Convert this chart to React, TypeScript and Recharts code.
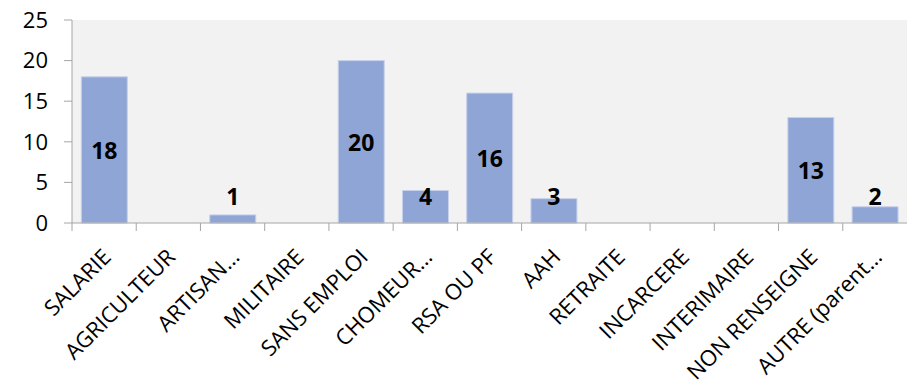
import React from "react";
import { BarChart, Bar, XAxis, YAxis, CartesianGrid, LabelList } from "recharts";

const categories = [
  "SALARIE",
  "AGRICULTEUR",
  "ARTISAN…",
  "MILITAIRE",
  "SANS EMPLOI",
  "CHOMEUR…",
  "RSA OU PF",
  "AAH",
  "RETRAITE",
  "INCARCERE",
  "INTERIMAIRE",
  "NON RENSEIGNE",
  "AUTRE (parent…",
];
const counts = [18, 0, 1, 0, 20, 4, 16, 3, 0, 0, 0, 13, 2];
const yTicks = [0, 5, 10, 15, 20, 25];

const WIDTH = 907;
const HEIGHT = 387;
const Y_AXIS_W = 72;
const PLOT_W = WIDTH - Y_AXIS_W;
const FONT = "'Open Sans', 'Liberation Sans', sans-serif";
const AXIS_GREY = "#A6A6A6";

const data = categories.map((name, i) => ({ name, count: counts[i] }));

function CategoryTick(props: any) {
  const { x, y, payload } = props;
  const bw = PLOT_W / categories.length;
  const left = x - bw / 2;
  const tx = x + 2;
  const ty = y + 29;
  return (
    <g>
      <line x1={left} x2={left} y1={y} y2={y + 8} stroke={AXIS_GREY} />
      <text
        x={tx}
        y={ty}
        textAnchor="end"
        dominantBaseline="central"
        transform={`rotate(-45, ${tx}, ${ty})`}
        fill="#000"
        fontSize={22}
        fontFamily={FONT}
      >
        {payload.value}
      </text>
    </g>
  );
}

function ValueLabel(props: any) {
  const { x, y, width, height, value } = props;
  if (!value) return null;
  const cx = x + width / 2;
  const cy = Math.min(y + height / 2, y + height - 27);
  return (
    <text
      x={cx}
      y={cy}
      textAnchor="middle"
      dominantBaseline="central"
      fontWeight="bold"
      fontSize={23}
      fontFamily={FONT}
      fill="#000"
    >
      {value}
    </text>
  );
}

export default function App() {
  return (
    <div style={{ position: "absolute", left: 0, top: 0, width: WIDTH, height: HEIGHT, background: "#fff" }}>
      <BarChart
        width={WIDTH}
        height={HEIGHT}
        data={data}
        margin={{ top: 20, right: 0, left: 0, bottom: 0 }}
        barCategoryGap="14.5%"
      >
        <CartesianGrid horizontal={false} vertical={false} fill="#F2F2F2" />
        <XAxis
          dataKey="name"
          interval={0}
          height={164}
          tickSize={0}
          tickMargin={0}
          tickLine={false}
          axisLine={{ stroke: AXIS_GREY }}
          tick={<CategoryTick />}
        />
        <YAxis
          width={Y_AXIS_W}
          domain={[0, 25]}
          ticks={yTicks}
          tickSize={8}
          tickMargin={16}
          tickLine={{ stroke: AXIS_GREY }}
          axisLine={{ stroke: AXIS_GREY }}
          tick={{ fill: "#000", fontSize: 22, fontFamily: FONT }}
        />
        <Bar dataKey="count" fill="#8FA5D5" stroke="#C8D1EA" strokeWidth={1} isAnimationActive={false}>
          <LabelList dataKey="count" content={<ValueLabel />} />
        </Bar>
      </BarChart>
    </div>
  );
}
